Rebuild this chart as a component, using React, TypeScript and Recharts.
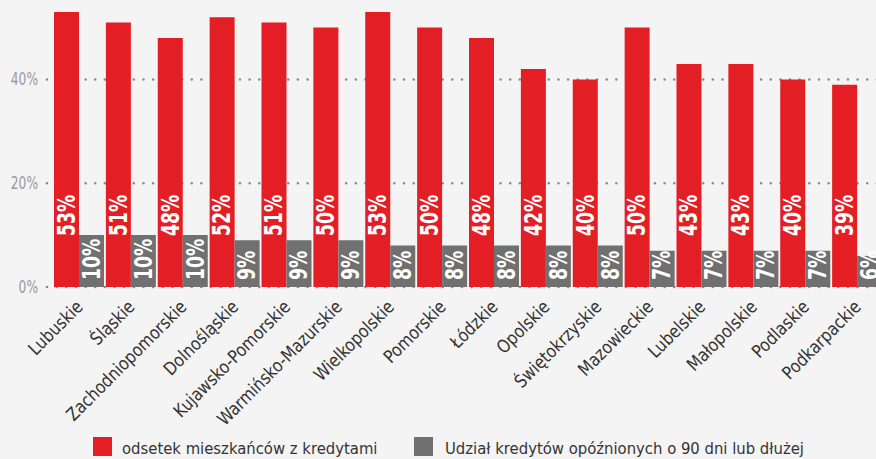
import React from 'react';
import { BarChart, Bar, XAxis, YAxis, CartesianGrid, LabelList, Legend } from 'recharts';

const categories = [
  'Lubuskie', 'Śląskie', 'Zachodniopomorskie', 'Dolnośląskie', 'Kujawsko-Pomorskie',
  'Warmińsko-Mazurskie', 'Wielkopolskie', 'Pomorskie', 'Łódzkie', 'Opolskie',
  'Świętokrzyskie', 'Mazowieckie', 'Lubelskie', 'Małopolskie', 'Podlaskie', 'Podkarpackie',
];
const withCredit = [53, 51, 48, 52, 51, 50, 53, 50, 48, 42, 40, 50, 43, 43, 40, 39];
const overdue = [10, 10, 10, 9, 9, 9, 8, 8, 8, 8, 8, 7, 7, 7, 7, 6];
const yTicks = [0, 20, 40];
const seriesNames = ['odsetek mieszkańców z kredytami', 'Udział kredytów opóźnionych o 90 dni lub dłużej'];

const RED = '#e31e24';
const GRAY = '#707070';
const FONT = '"DejaVu Sans Condensed", "DejaVu Sans", sans-serif';

const data = categories.map((name, i) => ({ name, a: withCredit[i], b: overdue[i] }));

const makeValueLabel = (offset: number) => (props: any) => {
  const { x, y, width, height, value } = props;
  const cx = x + width / 2;
  const by = y + height - offset;
  return (
    <text
      x={0}
      y={0}
      transform={`translate(${cx}, ${by}) rotate(-90) scale(0.8, 1)`}
      textAnchor="start"
      dominantBaseline="central"
      fill="#fff"
      fontFamily={FONT}
      fontWeight="bold"
      fontSize={24}
    >
      {value}%
    </text>
  );
};

const XTick = (props: any) => {
  const { x, y, payload } = props;
  const tx = x + 5;
  const ty = y + 21;
  return (
    <text
      x={0}
      y={0}
      transform={`translate(${tx}, ${ty}) rotate(-45) scale(0.95, 1)`}
      textAnchor="end"
      fill="#333"
      fontFamily={FONT}
      fontSize={18}
    >
      {payload.value}
    </text>
  );
};

const YTick = (props: any) => {
  const { y, payload } = props;
  return (
    <text
      x={0}
      y={0}
      transform={`translate(38, ${y}) scale(0.8, 1)`}
      textAnchor="end"
      dominantBaseline="central"
      fill="#9a9a9a"
      fontFamily={FONT}
      fontSize={17}
    >
      {payload.value}%
    </text>
  );
};

const GridLine = (props: any) => {
  const { x1, y1, x2, y2 } = props;
  if (y1 < 30) return <g />;
  return (
    <line
      x1={x1}
      y1={y1}
      x2={x2}
      y2={y2}
      stroke="#8a8a8a"
      strokeWidth={2.6}
      strokeLinecap="round"
      strokeDasharray="0 9.65"
    />
  );
};

const LegendContent = () => (
  <svg width={780} height={24} style={{ display: 'block' }}>
    <rect x={0} y={1} width={19} height={19} fill={RED} />
    <text x={29} y={18} fill="#333" fontFamily={FONT} fontSize={16.5}>
      {seriesNames[0]}
    </text>
    <rect x={321} y={1} width={19} height={19} fill={GRAY} />
    <text x={352} y={18} fill="#333" fontFamily={FONT} fontSize={16.5}>
      {seriesNames[1]}
    </text>
  </svg>
);

export default function App() {
  return (
    <div style={{ position: 'absolute', left: 0, top: 0, width: 876, height: 459, overflow: 'hidden', background: '#f4f4f4' }}>
      <BarChart
        width={900}
        height={459}
        data={data}
        margin={{ top: 12, right: 17, bottom: 0, left: 0 }}
        barCategoryGap={1}
        barGap={0}
      >
        <CartesianGrid vertical={false} horizontal={(p: any) => <GridLine key={p.key} {...p} />} />
        <XAxis
          dataKey="name"
          axisLine={false}
          tickLine={false}
          tickSize={0}
          tickMargin={0}
          height={172}
          interval={0}
          padding={{ left: 6, right: 0 }}
          tick={<XTick />}
        />
        <YAxis
          width={47}
          domain={[0, 53]}
          ticks={yTicks}
          axisLine={false}
          tickLine={false}
          tick={<YTick />}
        />
        <Legend
          layout="horizontal"
          verticalAlign="middle"
          align="center"
          content={<LegendContent />}
          wrapperStyle={{ top: 436, left: 93, width: 780, height: 24 }}
        />
        <Bar dataKey="a" fill={RED} isAnimationActive={false}>
          <LabelList dataKey="a" content={makeValueLabel(51)} />
        </Bar>
        <Bar dataKey="b" fill={GRAY} isAnimationActive={false}>
          <LabelList dataKey="b" content={makeValueLabel(7)} />
        </Bar>
      </BarChart>
    </div>
  );
}
